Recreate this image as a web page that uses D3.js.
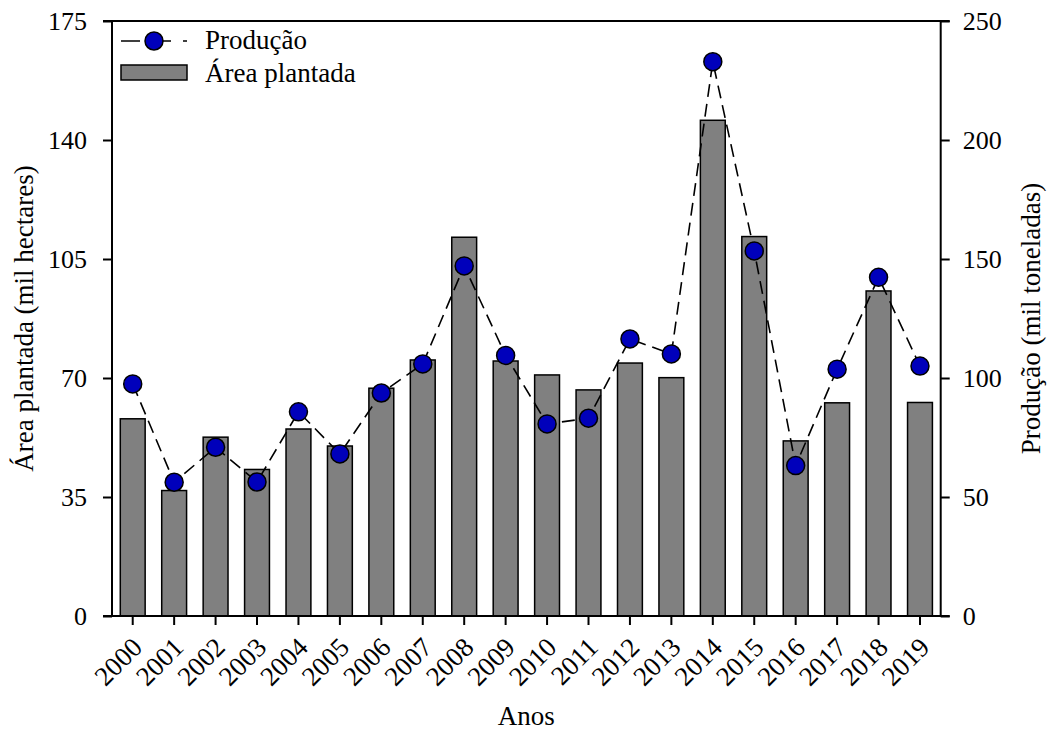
<!DOCTYPE html>
<html>
<head>
<meta charset="utf-8">
<script src="https://cdn.jsdelivr.net/npm/d3@7"></script>
<style>
  html, body { margin: 0; padding: 0; background: #fff; }
  svg text { font-family: "Liberation Serif", "Times New Roman", serif; fill: #000; }
</style>
</head>
<body>
<svg id="chart" width="1052" height="731"></svg>
<script>
// Área plantada (mil hectares) e produção (mil toneladas), 2000–2019
const years = ["2000","2001","2002","2003","2004","2005","2006","2007","2008","2009",
               "2010","2011","2012","2013","2014","2015","2016","2017","2018","2019"];
const areaPlantada = [58.0, 36.9, 52.6, 43.1, 55.0, 50.0, 67.0, 75.3, 111.4, 75.0,
                      70.9, 66.5, 74.4, 70.1, 145.8, 111.6, 51.5, 62.7, 95.6, 62.8];
const producao = [97.5, 56.2, 70.9, 56.3, 85.8, 68.1, 93.7, 105.9, 147.1, 109.5,
                  80.7, 83.1, 116.4, 110.1, 232.9, 153.4, 63.2, 103.7, 142.3, 105.0];
const leftTicks = [0, 35, 70, 105, 140, 175];
const rightTicks = [0, 50, 100, 150, 200, 250];

const svg = d3.select("#chart");
const plot = { left: 112, right: 940.7, top: 21, bottom: 616 };
const tick = 9;
const fontSize = 26;

const x = d3.scaleBand().domain(years).range([plot.left, plot.right])
  .paddingInner(0.4).paddingOuter(0.2);
const yL = d3.scaleLinear().domain([0, 175]).range([plot.bottom, plot.top]);
const yR = d3.scaleLinear().domain([0, 250]).range([plot.bottom, plot.top]);

// bars: planted area (left axis)
svg.append("g").selectAll("rect").data(areaPlantada).join("rect")
  .attr("x", (d, i) => x(years[i]))
  .attr("y", d => yL(d))
  .attr("width", x.bandwidth())
  .attr("height", d => yL(0) - yL(d))
  .attr("fill", "#808080")
  .attr("stroke", "#000")
  .attr("stroke-width", 1.5);

// production line (right axis)
const cx = (d, i) => x(years[i]) + x.bandwidth() / 2;
const line = d3.line().x(cx).y(d => yR(d));
svg.append("path").datum(producao)
  .attr("d", line)
  .attr("fill", "none")
  .attr("stroke", "#000")
  .attr("stroke-width", 1.6)
  .attr("stroke-dasharray", "13,7");

svg.append("g").selectAll("circle").data(producao).join("circle")
  .attr("cx", cx)
  .attr("cy", d => yR(d))
  .attr("r", 9)
  .attr("fill", "#0000bb")
  .attr("stroke", "#000")
  .attr("stroke-width", 1.5);

// frame lines (top and bottom extend past the vertical axes like outer ticks)
const frame = svg.append("g").attr("stroke", "#000").attr("stroke-width", 2);
frame.append("line").attr("x1", plot.left - tick).attr("x2", plot.right + tick)
  .attr("y1", plot.top).attr("y2", plot.top);
frame.append("line").attr("x1", plot.left - tick).attr("x2", plot.right + tick)
  .attr("y1", plot.bottom).attr("y2", plot.bottom);
frame.append("line").attr("x1", plot.left).attr("x2", plot.left)
  .attr("y1", plot.top).attr("y2", plot.bottom);
frame.append("line").attr("x1", plot.right).attr("x2", plot.right)
  .attr("y1", plot.top).attr("y2", plot.bottom);

function styleAxis(g) {
  g.select(".domain").remove();
  g.selectAll(".tick line").attr("stroke", "#000").attr("stroke-width", 2);
  g.selectAll(".tick text").attr("font-size", fontSize)
    .style("font-family", '"Liberation Serif", "Times New Roman", serif').attr("fill", "#000");
}

svg.append("g").attr("transform", `translate(${plot.left},0)`)
  .call(d3.axisLeft(yL).tickValues(leftTicks).tickSize(tick).tickPadding(16))
  .call(styleAxis);

svg.append("g").attr("transform", `translate(${plot.right},0)`)
  .call(d3.axisRight(yR).tickValues(rightTicks).tickSize(tick).tickPadding(13))
  .call(styleAxis);

const xAxis = svg.append("g").attr("transform", `translate(0,${plot.bottom})`)
  .call(d3.axisBottom(x).tickSize(tick).tickPadding(0))
  .call(styleAxis);
xAxis.selectAll(".tick text")
  .attr("font-size", 27)
  .attr("text-anchor", "end")
  .attr("dy", "0")
  .attr("y", 0)
  .attr("transform", "translate(11,33) rotate(-45)");

// axis titles
svg.append("text")
  .attr("transform", `translate(${(plot.left + plot.right) / 2},725)`)
  .attr("text-anchor", "middle")
  .attr("font-size", 27)
  .text("Anos");

svg.append("text")
  .attr("transform", `translate(33,${(plot.top + plot.bottom) / 2}) rotate(-90)`)
  .attr("text-anchor", "middle")
  .attr("font-size", 27)
  .text("Área plantada (mil hectares)");

svg.append("text")
  .attr("transform", `translate(1040,${(plot.top + plot.bottom) / 2}) rotate(-90)`)
  .attr("text-anchor", "middle")
  .attr("font-size", 27)
  .text("Produção (mil toneladas)");

// legend
const legend = svg.append("g");
legend.append("line")
  .attr("x1", 121).attr("x2", 187).attr("y1", 41).attr("y2", 41)
  .attr("stroke", "#000").attr("stroke-width", 1.5).attr("stroke-dasharray", "19,12");
legend.append("circle")
  .attr("cx", 154).attr("cy", 41).attr("r", 9)
  .attr("fill", "#0000bb").attr("stroke", "#000").attr("stroke-width", 1.5);
legend.append("text").attr("x", 205).attr("y", 49).attr("font-size", 27).text("Produção");
legend.append("rect")
  .attr("x", 121).attr("y", 65).attr("width", 66).attr("height", 15)
  .attr("fill", "#808080").attr("stroke", "#000").attr("stroke-width", 1.5);
legend.append("text").attr("x", 205).attr("y", 82).attr("font-size", 27).text("Área plantada");
</script>
</body>
</html>
